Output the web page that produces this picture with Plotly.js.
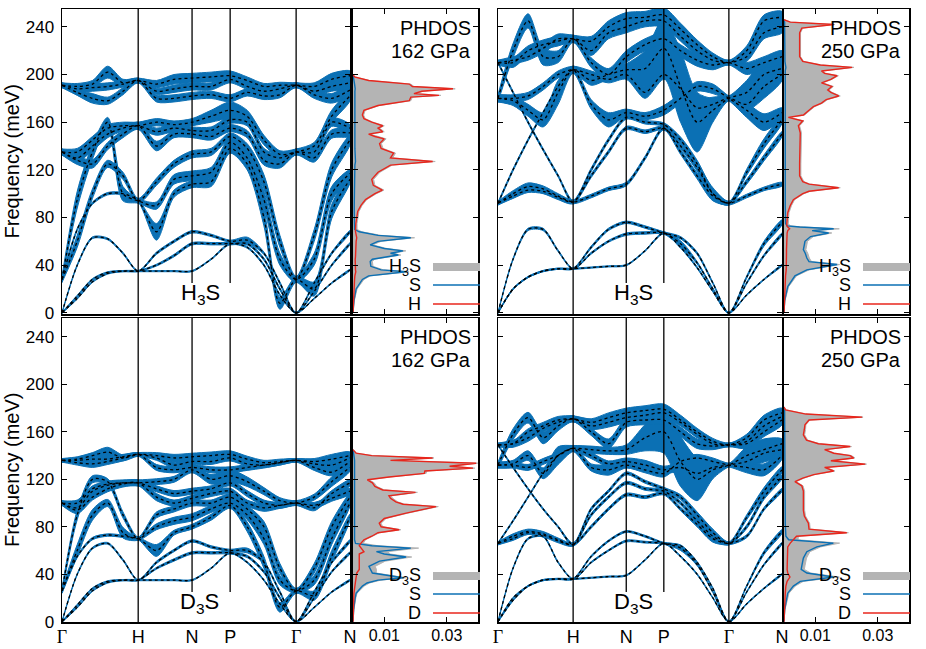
<!DOCTYPE html>
<html>
<head>
<meta charset="utf-8">
<script src="https://cdn.plot.ly/plotly-3.0.1.min.js"></script>
<style>body{margin:0;background:#fff}#plot{width:926px;height:649px}</style>
</head>
<body>
<div id="plot"></div>
<script>
// sample points along the bcc path G-H-N-P-G-N (path length units)
var kpath = [0, 0.2, 0.4, 0.6, 0.8, 1.0, 1.24, 1.47, 1.707, 1.957, 2.207, 2.43, 2.65, 2.86, 3.073, 3.31, 3.54, 3.78];
var kTicks = [0, 1.0, 1.707, 2.207, 3.073, 3.78];
var GAM = '<span style="font-family:Liberation Serif, Times New Roman, serif">Γ</span>';
var kLabels = [GAM, 'H', 'N', 'P', GAM, 'N'];
var freqTicks = [0, 40, 80, 120, 160, 200, 240];

// H3S, 162 GPa : 12 branches (meV) and fat-band width (meV)
var bandsH3S162 = [
  [0,12,26,33,35,35, 35,35,35, 45,58, 55,40,15,0, 12,25,36],
  [0,14,28,34,35,35, 40,48,58, 58,58, 58,45,20,0, 18,40,58],
  [0,40,63,62,50,35, 50,60,68, 65,60, 61,50,25,0, 25,50,68],
  [28,70,92,100,100,94, 68,100,108, 110,138, 125,80,8,28, 20,85,112],
  [28,95,135,160,100,94, 90,112,115, 118,143, 130,95,45,28, 45,100,117],
  [28,60,100,125,115,94, 110,125,133, 135,148, 138,110,60,28, 65,120,145],
  [135,128,125,140,150,157, 140,150,150, 148,155, 150,128,125,135, 130,150,151],
  [135,130,140,150,155,157, 152,155,153, 153,162, 160,135,130,135, 135,160,155],
  [135,135,145,155,157,157, 160,158,160, 165,170, 165,145,133,135, 140,165,182],
  [191,185,180,178,186,195, 180,180,182, 183,180, 185,182,183,191, 183,180,187],
  [191,188,189,190,192,195, 186,188,190, 190,196, 190,186,188,191, 186,190,193],
  [191,190,192,202,193,195, 192,196,197, 198,199, 195,190,191,191, 190,196,199]
];
var fatH3S162 = [
  [1,1,1,1,1,1, 1,1,1, 1,1.5, 1.5,1.5,1.5,1, 1,1,1],
  [1,1.5,1.5,1,1,1, 1.5,2,2, 2,2, 2,2,2,1, 1.5,1.5,1.5],
  [1,1.5,1.5,1.5,1.5,1, 2,2,2, 2,2, 5,2,2,1, 2,2,2],
  [5,2,2,2,2,2, 14,6,6, 8,8, 10,14,10,5, 12,12,6],
  [5,14,12,8,12,4, 6,8,8, 8,8, 10,14,10,5, 10,12,6],
  [5,10,8,6,6,4, 6,6,6, 6,6, 8,12,10,5, 10,12,8],
  [5,7,7,6,6,6, 8,6,6, 6,6, 6,8,7,5, 7,7,6],
  [5,6,8,6,5,6, 6,6,6, 6,6, 6,6,6,5, 6,7,6],
  [5,6,6,6,6,6, 6,6,6, 10,14, 10,8,6,5, 6,10,8],
  [4,5,8,6,6,4, 6,6,6, 6,6, 6,6,5,4, 6,8,8],
  [4,5,6,6,5,4, 5,6,6, 6,6, 5,5,5,4, 6,8,8],
  [4,5,6,10,6,4, 6,8,8, 8,8, 6,5,5,4, 6,10,8]
];

// H3S, 250 GPa
var bandsH3S250 = [
  [0,20,30,35,37,37, 38,39,40, 52,67, 55,38,18,0, 15,28,40],
  [0,45,70,70,52,37, 50,60,66, 67,67, 58,42,20,0, 25,48,66],
  [0,20,30,35,37,37, 55,70,76, 72,67, 63,50,25,0, 30,58,76],
  [92,100,106,104,98,93, 98,104,108, 130,155, 135,115,98,92, 98,104,108],
  [92,98,103,102,97,93, 115,135,155, 152,155, 140,122,100,92, 110,130,150],
  [210,185,160,137,115,93, 120,145,164, 160,158, 145,125,100,92, 118,142,162],
  [92,120,145,168,190,204, 175,162,168, 165,170, 180,190,188,180, 170,160,168],
  [180,180,182,190,200,204, 200,196,200, 185,200, 188,172,175,180, 175,190,200],
  [180,178,170,162,185,204, 195,200,204, 205,222, 190,160,170,180, 185,200,205],
  [180,220,245,215,215,230, 210,200,215, 225,230, 220,212,208,210, 205,210,215],
  [210,210,220,225,228,230, 220,235,240, 245,245, 232,220,212,210, 215,235,240],
  [210,212,215,222,230,230, 228,240,247, 248,250, 238,225,215,210, 220,245,248]
];
var fatH3S250 = [
  [1,1,1,1,1,1, 1,1,1, 1,1.5, 1.5,1.5,1,1, 1,1,1],
  [1,1.5,2,2,1.5,1, 1.5,1.5,2, 2,2, 5,2,1.5,1, 1.5,2,2],
  [1,1,1,1,1,1, 2,2,2, 2,2, 2,2,1.5,1, 2,4,4],
  [3,5,6,5,4,3, 3,3,3, 3,3, 4,5,8,3, 3,3,3],
  [3,4,4,4,4,3, 3,3,3, 3,3, 4,6,10,3, 4,5,4],
  [2,2,2,2,2,3, 3,3,3, 3,3, 5,6,8,3, 5,8,6],
  [2,2,2,2,2,6, 8,12,6, 6,8, 8,8,8,4, 12,14,8],
  [6,6,6,6,6,6, 6,6,8, 10,8, 10,14,12,4, 10,20,10],
  [6,8,10,12,20,6, 8,8,10, 30,50, 60,50,20,4, 20,24,10],
  [6,12,12,14,10,6, 8,10,10, 10,10, 10,10,8,4, 10,10,10],
  [4,8,8,8,8,6, 8,10,10, 10,10, 8,8,6,4, 8,10,10],
  [4,6,6,8,8,6, 8,10,10, 10,12, 10,8,6,4, 8,10,10]
];

// D3S, 162 GPa
var bandsD3S162 = [
  [0,12,26,33,35,35, 35,35,35, 45,58, 50,35,15,0, 12,25,35],
  [0,14,28,34,35,35, 45,52,58, 58,58, 55,42,20,0, 20,42,58],
  [0,40,62,66,52,35, 50,60,68, 63,60, 60,50,25,0, 25,50,68],
  [26,55,70,73,72,70, 60,75,80, 88,98, 80,50,12,26, 22,55,88],
  [26,60,90,100,75,70, 80,85,88, 95,100, 90,70,35,26, 35,70,100],
  [26,90,120,118,90,70, 90,95,100, 100,105, 95,80,45,26, 45,80,105],
  [100,94,105,112,116,117, 105,100,104, 108,110, 100,96,98,100, 98,104,110],
  [100,96,110,115,117,117, 112,108,110, 112,117, 108,100,98,100, 96,108,117],
  [100,100,112,116,117,117, 118,120,128, 120,123, 118,110,102,100, 105,118,130],
  [136,134,133,135,138,141, 130,128,130, 128,128, 130,132,134,136, 130,126,135],
  [136,136,137,137,139,141, 138,132,135, 135,138, 133,132,134,136, 133,132,138],
  [136,137,140,143,138,141, 140,138,139, 140,141, 137,134,135,136, 135,137,140]
];
var fatD3S162 = [
  [1,1,1,1,1,1, 1,1,1, 1,1.2, 1.2,1.2,1.2,1, 1,1,1],
  [1,1.2,1.2,1,1,1, 1.5,2,2, 2,2, 2,2,2,1, 1.5,1.5,1.5],
  [1,1.2,1.5,1.5,1.5,1, 2,2,2, 2,2, 4,2,2,1, 2,2,2],
  [4,2,2,2,2,2, 10,4,4, 5,5, 8,10,8,4, 8,10,5],
  [4,10,9,6,9,3, 5,6,6, 6,6, 8,10,8,4, 8,10,5],
  [4,8,6,5,5,3, 5,5,5, 5,5, 6,9,8,4, 8,9,6],
  [4,6,5,5,5,5, 6,5,5, 5,5, 5,6,5,4, 5,5,5],
  [4,5,6,5,4,5, 5,5,5, 5,5, 5,5,5,4, 5,5,5],
  [4,5,5,5,5,5, 5,5,5, 8,10, 8,6,5,4, 5,8,6],
  [3,4,6,5,5,3, 5,5,5, 5,5, 5,5,4,3, 5,6,6],
  [3,4,5,5,4,3, 4,5,5, 5,5, 4,4,4,3, 5,6,6],
  [3,4,5,8,5,3, 5,6,6, 6,6, 5,4,4,3, 5,8,6]
];

// D3S, 250 GPa
var bandsD3S250 = [
  [0,20,30,35,36,36, 37,38,39, 52,66, 55,40,20,0, 15,28,40],
  [0,45,70,72,50,36, 50,60,68, 67,66, 62,48,25,0, 25,48,66],
  [0,18,30,35,36,36, 55,68,76, 72,66, 64,50,28,0, 30,58,76],
  [66,72,76,74,69,65, 80,95,107, 105,108, 95,82,70,66, 72,95,111],
  [66,70,75,73,68,65, 90,105,117, 112,110, 100,85,72,66, 80,105,122],
  [149,130,112,95,80,65, 95,110,125, 118,112, 105,90,75,66, 88,110,128],
  [66,85,105,125,140,146, 130,128,132, 128,125, 135,138,135,132, 130,128,140],
  [132,132,130,135,140,146, 140,133,135, 132,128, 130,125,130,132, 135,142,145],
  [132,133,140,125,140,146, 145,144,145, 155,160, 135,120,128,132, 140,145,150],
  [132,158,172,155,165,171, 160,150,168, 170,170, 160,150,148,149, 150,160,170],
  [149,150,155,163,168,171, 165,168,172, 174,176, 168,158,150,149, 152,165,173],
  [149,150,160,165,170,171, 168,172,176, 178,179, 170,160,152,149, 155,170,176]
];
var fatD3S250 = [
  [1,1,1,1,1,1, 1,1,1, 1,1.2, 1.2,1.2,1,1, 1,1,1],
  [1,1.2,1.5,1.5,1.2,1, 1.2,1.2,1.5, 1.5,1.5, 4,1.5,1.2,1, 1.2,1.5,1.5],
  [1,1,1,1,1,1, 1.5,1.5,1.5, 1.5,1.5, 1.5,1.5,1.2,1, 1.5,3,3],
  [2.5,4,4,4,3,2.5, 2.5,2.5,2.5, 2.5,2.5, 3,4,6,2.5, 2.5,2.5,2.5],
  [2.5,3,3,3,3,2.5, 2.5,2.5,2.5, 2.5,2.5, 3,5,7,2.5, 3,4,3],
  [1.5,1.5,1.5,1.5,1.5,2.5, 2.5,2.5,2.5, 2.5,2.5, 4,5,6,2.5, 4,6,5],
  [1.5,1.5,1.5,1.5,1.5,5, 6,9,5, 5,6, 6,6,6,3, 9,10,6],
  [5,5,5,5,5,5, 5,5,6, 8,6, 8,10,9,3, 8,15,8],
  [5,6,8,9,15,5, 6,6,8, 22,36, 42,36,15,3, 15,18,8],
  [5,9,9,10,8,5, 6,8,8, 8,8, 8,8,6,3, 8,8,8],
  [3,6,6,6,6,5, 6,8,8, 8,8, 6,6,5,3, 6,8,8],
  [3,5,5,6,6,5, 6,8,8, 8,9, 8,6,5,3, 6,8,8]
];

// phonon DOS: energy (meV), S-projected and H/D-projected (states/meV)
var dosE_H162 = [0,10,20,28,31,33,34.5,36,39,43,45,47,48.5,50,52,54,57,60,63,65,68,70,75,85,90,95,100,103,107,112,118,124,127,130,134,138,142,146,148,150,152,155,157,160,163,166,170,174,178,181,182.5,184,186,188,190,192,195,198,200];
var dosS_H162 = [0,.0003,.001,.003,.005,.012,.017,.009,.0057,.0055,.0062,.011,.0145,.012,.016,.010,.0055,.008,.0185,.008,.002,.0005,.0004,.0004,.0004,.0004,.0005,.0005,.0005,.0006,.0006,.0006,.0008,.0007,.0006,.0006,.0006,.0006,.0006,.0005,.0005,.0005,.0005,.0004,.0004,.0004,.0004,.0005,.0005,.0005,.0006,.0005,.0006,.0007,.0005,.0005,.0003,.0001,0];
var dosH_H162 = [0,.0001,.0003,.0005,.0006,.0008,.0009,.0008,.0007,.0007,.0007,.0008,.0008,.0008,.0009,.0008,.0008,.001,.0012,.001,.0008,.0008,.0009,.0015,.0025,.004,.007,.0094,.0065,.006,.008,.012,.0255,.012,.013,.009,.0085,.010,.007,.005,.0095,.008,.0095,.006,.0035,.003,.0035,.008,.018,.0185,.0275,.0195,.022,.032,.019,.018,.005,.0005,0];

var dosE_H250 = [0,10,22,31,36,40.5,43,46,50,53,57,60,64,67,69,70.5,72,73,75,80,84,90,95,100,102,105,108,110,115,125,135,145,151,157,161,164,166,170,173,176,179,182,185,187,190,193,196,199,201,203,206,208,211,215,220,227,235,239,242,244,246];
var dosS_H250 = [0,.0002,.0012,.0035,.0073,.017,.008,.0073,.0068,.0062,.0065,.0067,.0085,.0143,.009,.0159,.005,.001,.0005,.0004,.0004,.0004,.0004,.0004,.0004,.0005,.0004,.0004,.0004,.0004,.0004,.0004,.0004,.0004,.0004,.0003,.0004,.0004,.0004,.0004,.0005,.0005,.0004,.0004,.0005,.0004,.0004,.0004,.0004,.0004,.0006,.0004,.0003,.0003,.0003,.0003,.0003,.0003,.0004,.0002,0];
var dosH_H250 = [0,.0001,.0003,.0005,.0007,.0008,.0008,.0008,.0008,.0008,.0008,.0008,.0009,.001,.0012,.0018,.0012,.0009,.0009,.001,.0012,.002,.003,.006,.008,.0175,.008,.006,.005,.005,.005,.005,.0052,.0046,.006,.0014,.0062,.008,.0094,.012,.0135,.0175,.015,.014,.0153,.012,.015,.017,.013,.012,.0218,.0116,.006,.005,.005,.0048,.005,.0057,.0159,.002,0];

var dosE_D162 = [0,10,20,24,30,32.6,35,37,41,44,46.6,51,54.5,57,59,62,64,66,69,72,75,77.5,80,83,87,91.5,94,97,99,101,104,106,109,111,114,117,119.6,122,125,127,129.4,131,133.6,136,138,140,142,145];
var dosS_D162 = [0,.0002,.0007,.001,.003,.0045,.008,.016,.0062,.0055,.0051,.0085,.017,.010,.0075,.0185,.006,.0008,.0005,.0005,.0005,.0005,.0005,.0006,.0006,.0006,.0006,.0007,.0006,.0006,.0007,.0006,.0006,.0006,.0006,.0006,.0006,.0006,.0006,.0006,.0006,.0005,.0005,.0005,.0004,.0003,.0002,0];
var dosD_D162 = [0,.0001,.0002,.0003,.0006,.0008,.0009,.0009,.0012,.002,.002,.0018,.0018,.002,.0035,.0025,.002,.0025,.0035,.006,.008,.0148,.009,.0084,.010,.017,.021,.0266,.016,.0137,.012,.0115,.020,.0095,.007,.0062,.0046,.0115,.0228,.023,.0384,.0309,.0394,.012,.0255,.006,.001,0];

var dosE_D250 = [0,10,24,30,34,37.6,41,44,47,53.6,59,63,66.2,69,72,75,78,83,89,94,100,105,110,114.5,118,121,124,127,130,132.8,135.6,138,140,142,145,147.6,150,153,157.5,162,166,170,172.4,175,178.5,181];
var dosS_D250 = [0,.0002,.0012,.003,.0052,.0158,.0073,.0055,.0057,.0062,.0073,.0105,.0158,.0015,.0006,.0005,.0004,.0004,.0004,.0004,.0004,.0004,.0004,.0004,.0004,.0004,.0004,.0004,.0004,.0004,.0004,.0004,.0004,.0004,.0004,.0004,.0004,.0004,.0004,.0004,.0003,.0003,.0003,.0003,.0002,0];
var dosD_D250 = [0,.0001,.0004,.0006,.001,.0019,.0012,.001,.001,.001,.001,.0012,.002,.003,.004,.0201,.008,.0078,.0065,.0062,.0062,.0062,.0062,.0057,.0035,.006,.0095,.0159,.013,.026,.015,.0223,.0212,.0159,.013,.0212,.011,.0072,.0062,.0065,.0067,.008,.025,.007,.0005,0];

var blue = '#0b70b4';
var red = '#e8261c';
var grey = '#b4b4b4';
var FONT = 'Liberation Sans, Arial, Helvetica, sans-serif';

var traces = [];
var centreLines = [];

function fatBands(E, W, xa, ya) {
  E.forEach(function (b, i) {
    var up = b.map(function (e, j) { return e + W[i][j] / 2; });
    var lo = b.map(function (e, j) { return e - W[i][j] / 2; }).reverse();
    traces.push({
      x: kpath.concat(kpath.slice().reverse()), y: up.concat(lo),
      mode: 'lines', fill: 'toself', fillcolor: blue,
      line: {color: blue, width: 1, shape: 'spline', smoothing: 0.8},
      xaxis: xa, yaxis: ya, hoverinfo: 'skip', showlegend: false
    });
    centreLines.push({
      x: kpath, y: b, mode: 'lines',
      line: {color: 'black', width: 1.3, dash: 'dot', shape: 'spline', smoothing: 0.8},
      xaxis: xa, yaxis: ya, hoverinfo: 'skip', showlegend: false
    });
  });
}

fatBands(bandsH3S162, fatH3S162, 'x', 'y');
fatBands(bandsH3S250, fatH3S250, 'x3', 'y3');
fatBands(bandsD3S162, fatD3S162, 'x5', 'y5');
fatBands(bandsD3S250, fatD3S250, 'x7', 'y7');
traces = traces.concat(centreLines);

function dos(E, S, H, xa, ya) {
  var tot = S.map(function (s, i) { return s + H[i]; });
  traces.push({x: tot, y: E, mode: 'lines', fill: 'tozerox', fillcolor: grey,
    line: {color: grey, width: 1}, xaxis: xa, yaxis: ya, showlegend: false});
  traces.push({x: S, y: E, mode: 'lines', line: {color: blue, width: 1.4},
    xaxis: xa, yaxis: ya, showlegend: false});
  traces.push({x: H, y: E, mode: 'lines', line: {color: red, width: 1.4},
    xaxis: xa, yaxis: ya, showlegend: false});
}
dos(dosE_H162, dosS_H162, dosH_H162, 'x2', 'y2');
dos(dosE_H250, dosS_H250, dosH_H250, 'x4', 'y4');
dos(dosE_D162, dosS_D162, dosD_D162, 'x6', 'y6');
dos(dosE_D250, dosS_D250, dosD_D250, 'x8', 'y8');

// pixel helpers for paper positions
function px(x) { return x / 926; }
function py(y) { return 1 - y / 649; }

var colDom = [[px(62), px(350)], [px(353), px(478)], [px(498), px(782)], [px(784), px(909)]];
var rowDom = [[py(314), py(9)], [py(622), py(318)]];
var rowRange = [[-1, 255], [-0.3, 256]];

var base = {
  showline: true, linecolor: 'black', linewidth: 1.5, mirror: 'ticks',
  showgrid: false, zeroline: false, ticks: 'inside', ticklen: 5, tickwidth: 1,
  tickcolor: 'black', tickfont: {family: FONT, size: 17, color: 'black'}, fixedrange: true
};
function ax(extra) { return Object.assign({}, base, extra); }

var layout = {
  width: 926, height: 649,
  margin: {l: 0, r: 0, t: 0, b: 0},
  paper_bgcolor: 'white', plot_bgcolor: 'white',
  font: {family: FONT, color: 'black'},
  showlegend: false,
  shapes: [], annotations: []
};

for (var r = 0; r < 2; r++) {
  for (var c = 0; c < 4; c++) {
    var n = r * 4 + c + 1;
    var xs = n === 1 ? 'xaxis' : 'xaxis' + n;
    var ys = n === 1 ? 'yaxis' : 'yaxis' + n;
    var band = (c % 2 === 0);
    layout[xs] = ax(band ? {
      domain: colDom[c], anchor: n === 1 ? 'y' : 'y' + n, range: [0, 3.78],
      tickvals: kTicks, ticktext: kLabels, ticks: '', showticklabels: r === 1,
      tickfont: {family: FONT, size: 18, color: 'black'}, ticklabelstandoff: -2
    } : {
      domain: colDom[c], anchor: 'y' + n, range: [0, 0.04],
      tickvals: [0.01, 0.03], ticktext: ['0.01', '0.03'], showticklabels: r === 1,
      tickfont: {family: FONT, size: 16, color: 'black'}, ticklabelstandoff: -2
    });
    layout[ys] = ax({
      domain: rowDom[r], anchor: n === 1 ? 'x' : 'x' + n, range: rowRange[r],
      tickvals: freqTicks, showticklabels: c === 0, ticklabelstandoff: 3
    });
    if (band) {
      var xr = n === 1 ? 'x' : 'x' + n, yr = n === 1 ? 'y' : 'y' + n;
      [1.0, 1.707, 2.207, 3.073].forEach(function (k) {
        var short = (k === 1.707 || k === 2.207);
        layout.shapes.push({type: 'line', xref: xr, yref: yr, x0: k, x1: k,
          y0: short ? 25 : rowRange[r][0], y1: rowRange[r][1],
          line: {color: 'black', width: 1.3}, layer: 'above'});
      });
    }
  }
}

function note(text, x, y, size, xanchor, extra) {
  layout.annotations.push(Object.assign({
    text: text, xref: 'paper', yref: 'paper', x: px(x), y: py(y),
    xanchor: xanchor || 'center', yanchor: 'middle', showarrow: false,
    font: {family: FONT, size: size, color: 'black'}
  }, extra || {}));
}

// axis titles
note('Frequency (meV)', 12, 161.5, 20, 'center', {textangle: -90});
note('Frequency (meV)', 12, 470, 20, 'center', {textangle: -90});

// compound labels
note('H<sub>3</sub>S', 200, 294, 22);
note('H<sub>3</sub>S', 633, 294, 22);
note('D<sub>3</sub>S', 199, 603, 22);
note('D<sub>3</sub>S', 633, 603, 22);

// PHDOS headers
[[473, 9, '162 GPa'], [903, 9, '250 GPa'], [473, 318, '162 GPa'], [903, 318, '250 GPa']].forEach(function (p) {
  note('PHDOS', p[0], p[1] + 19, 20, 'right');
  note(p[2], p[0], p[1] + 42, 20, 'right');
});

// DOS legends
[[423, 267, 'H'], [853, 267, 'H'], [423, 576, 'D'], [853, 576, 'D']].forEach(function (p) {
  var x = p[0], y = p[1];
  note(p[2] + '<sub>3</sub>S', x, y, 18, 'right');
  note('S', x, y + 18, 18, 'right');
  note(p[2], x, y + 37, 18, 'right');
  layout.shapes.push({type: 'line', xref: 'paper', yref: 'paper', x0: px(x + 10), x1: px(x + 57),
    y0: py(y), y1: py(y), line: {color: grey, width: 8}});
  layout.shapes.push({type: 'line', xref: 'paper', yref: 'paper', x0: px(x + 10), x1: px(x + 57),
    y0: py(y + 18), y1: py(y + 18), line: {color: blue, width: 1.5}});
  layout.shapes.push({type: 'line', xref: 'paper', yref: 'paper', x0: px(x + 10), x1: px(x + 57),
    y0: py(y + 37), y1: py(y + 37), line: {color: red, width: 1.5}});
});

Plotly.newPlot('plot', traces, layout, {staticPlot: true});
</script>
</body>
</html>
